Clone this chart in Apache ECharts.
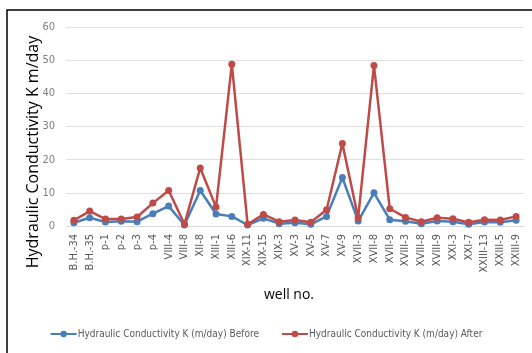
<!DOCTYPE html>
<html>
<head>
<meta charset="utf-8">
<script src="https://cdn.jsdelivr.net/npm/echarts@6/dist/echarts.min.js"></script>
<style>
html,body{margin:0;padding:0;background:#fff;}
#chart{width:532px;height:353px;}
</style>
</head>
<body>
<div id="chart"></div>
<script>
// Well identifiers along the horizontal axis
const wells = ['B.H.-34','B.H.-35','p-1','p-2','p-3','p-4','VIII-4','VIII-8','XII-8','XIII-1','XIII-6',
  'XIX-11','XIX-15','XIX-3','XV-3','XV-5','XV-7','XV-9','XVII-3','XVII-8','XVII-9','XVIII-3',
  'XVIII-8','XVIII-9','XXI-3','XXI-7','XXIII-13','XXIII-5','XXIII-9'];

// Hydraulic conductivity K (m/day) before treatment
const kBefore = [1.0,2.5,1.2,1.4,1.3,3.7,6.0,0.3,10.7,3.6,2.9,
  0.3,2.3,0.7,1.0,0.5,2.9,14.6,1.5,10.0,1.9,1.4,
  0.7,1.5,1.3,0.5,1.2,1.1,1.7];

// Hydraulic conductivity K (m/day) after treatment
const kAfter = [1.7,4.5,2.1,2.1,2.7,6.9,10.7,0.6,17.5,5.7,48.8,
  0.5,3.5,1.3,1.8,1.1,4.9,24.9,2.5,48.4,5.2,2.6,
  1.3,2.5,2.2,1.1,1.9,1.8,2.9];

const yTicks = {min: 0, max: 60, interval: 10};

const seriesNames = ['Hydraulic Conductivity K (m/day) Before', 'Hydraulic Conductivity K (m/day) After'];

const chart = echarts.init(document.getElementById('chart'));
const narrow = '"Liberation Sans Narrow", "DejaVu Sans Condensed", sans-serif';

function lineSeries(name, data, color) {
  return {
    name: name,
    type: 'line',
    data: data,
    symbol: 'circle',
    symbolSize: 7,
    lineStyle: {color: color, width: 2.5},
    itemStyle: {color: color},
    emphasis: {disabled: true},
    animation: false
  };
}

chart.setOption({
  animation: false,
  grid: {left: 66, right: 8, top: 27, bottom: 127, containLabel: false},
  xAxis: {
    type: 'category',
    data: wells,
    boundaryGap: true,
    axisLine: {lineStyle: {color: '#d9d9d9', width: 1}},
    axisTick: {show: false},
    axisLabel: {rotate: 90, interval: 0, color: '#595959', fontSize: 11, fontFamily: narrow, margin: 8}
  },
  yAxis: {
    type: 'value',
    min: yTicks.min, max: yTicks.max, interval: yTicks.interval,
    axisLine: {show: false},
    axisTick: {show: false},
    splitLine: {lineStyle: {color: '#e0e0e0', width: 1}},
    axisLabel: {color: '#7f7f7f', fontSize: 11, fontFamily: narrow, margin: 11}
  },
  legend: {
    bottom: 9,
    left: 'center',
    itemWidth: 26,
    itemHeight: 8,
    itemGap: 22,
    textStyle: {color: '#595959', fontSize: 10, fontFamily: narrow, padding: [0,0,0,-4]},
    data: seriesNames
  },
  series: [
    lineSeries(seriesNames[0], kBefore, '#4a7ebb'),
    lineSeries(seriesNames[1], kAfter, '#be4b48')
  ],
  graphic: [
    {
      type: 'rect', silent: true, z: -1,
      shape: {x: 7, y: 10, width: 700, height: 500},
      style: {fill: 'none', stroke: '#000', lineWidth: 1.5}
    },
    {
      type: 'text', silent: true,
      x: 33, y: 152, rotation: Math.PI / 2,
      style: {text: 'Hydraulic Conductivity K m/day', fill: '#000', font: '16px "Open Sans", "DejaVu Sans", sans-serif',
        align: 'center', verticalAlign: 'middle'}
    },
    {
      type: 'text', silent: true,
      x: 289, y: 295,
      style: {text: 'well no.', fill: '#000', font: '14px "Open Sans", "DejaVu Sans", sans-serif',
        align: 'center', verticalAlign: 'middle'}
    }
  ]
});
</script>
</body>
</html>
